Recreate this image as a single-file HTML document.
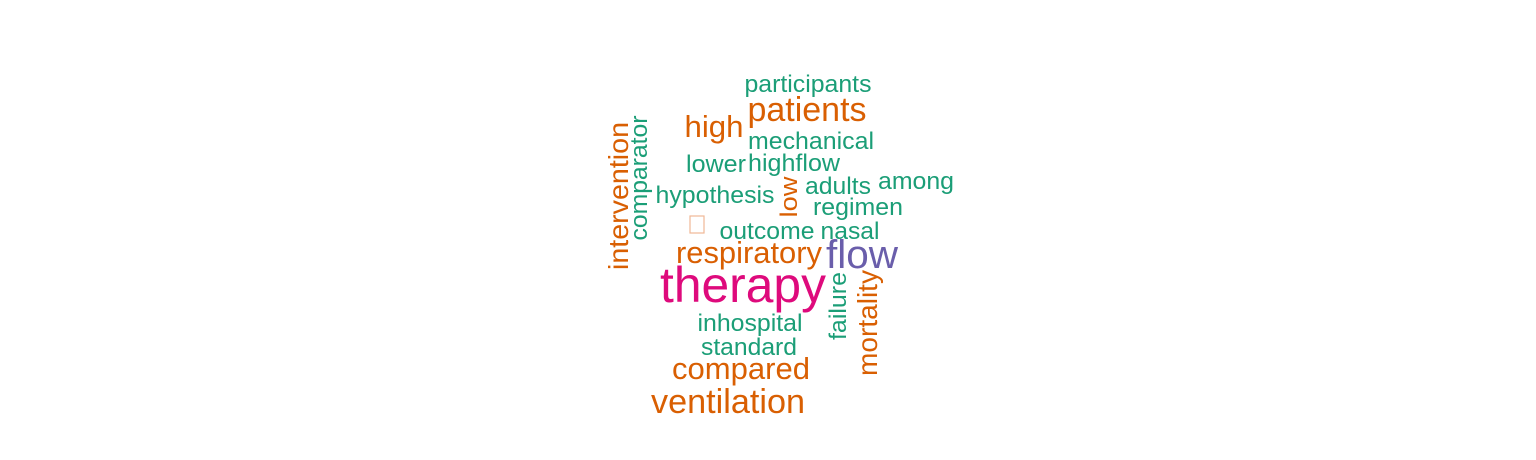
<!DOCTYPE html>
<html><head><meta charset="utf-8"><style>
html,body{margin:0;padding:0;background:#fff;}
svg{display:block;}
text{font-family:"Liberation Sans",Arial,sans-serif;}
</style></head>
<body>
<svg id="cloud" width="1536" height="460" viewBox="0 0 1536 460">
<rect x="690" y="216" width="14" height="17" fill="none" stroke="#f0b896" stroke-width="1.2"/>
</svg>
<script>
const words = ["participants","patients","high","mechanical","lower","highflow","hypothesis","adults","among","regimen","outcome","nasal","respiratory","flow","therapy","inhospital","standard","compared","ventilation","low","failure","mortality","intervention","comparator"];
const sizes = [24,34,31,24,24,24,24,24,24,24,24,24,31,40,50,24,24,31,34,24,24,28,28,24];
const groups = ["g","o","o","g","g","g","g","g","g","g","g","g","o","p","m","g","g","o","o","o","g","o","o","g"];
const cx = [808,807,714,811,716,794,715,838,916,858,767,850,749,862,743,750,749,741,728,797,846,877,628,647];
const cy = [92,121,137,149,172,171,203,194,189,215,239,239,263,268,302,331,355,379,413,197,306,323,196,178];
const widths = [127,119,59,126,60,92,119,66,76,90,95,59,146,72,166,105,96,138,154,41,68,106,148,125];
const rotated = [0,0,0,0,0,0,0,0,0,0,0,0,0,0,0,0,0,0,0,1,1,1,1,1];
const palette = {g:"#1b9e77",o:"#d95f02",p:"#6a5eab",m:"#de0a7c"};
const svg = document.getElementById('cloud');
const NS = "http://www.w3.org/2000/svg";
words.forEach((w,i)=>{
  const t = document.createElementNS(NS,'text');
  
  
  t.setAttribute('x', cx[i]);
  t.setAttribute('y', cy[i]);
  t.setAttribute('text-anchor','middle');
  t.setAttribute('font-size', sizes[i]);
  t.setAttribute('fill', palette[groups[i]]);
  t.setAttribute('textLength', widths[i]);
  t.setAttribute('lengthAdjust','spacingAndGlyphs');
  if (rotated[i]) t.setAttribute('transform','rotate(-90 '+cx[i]+' '+cy[i]+')');
  t.textContent = w;
  svg.appendChild(t);
});
</script>
</body></html>
